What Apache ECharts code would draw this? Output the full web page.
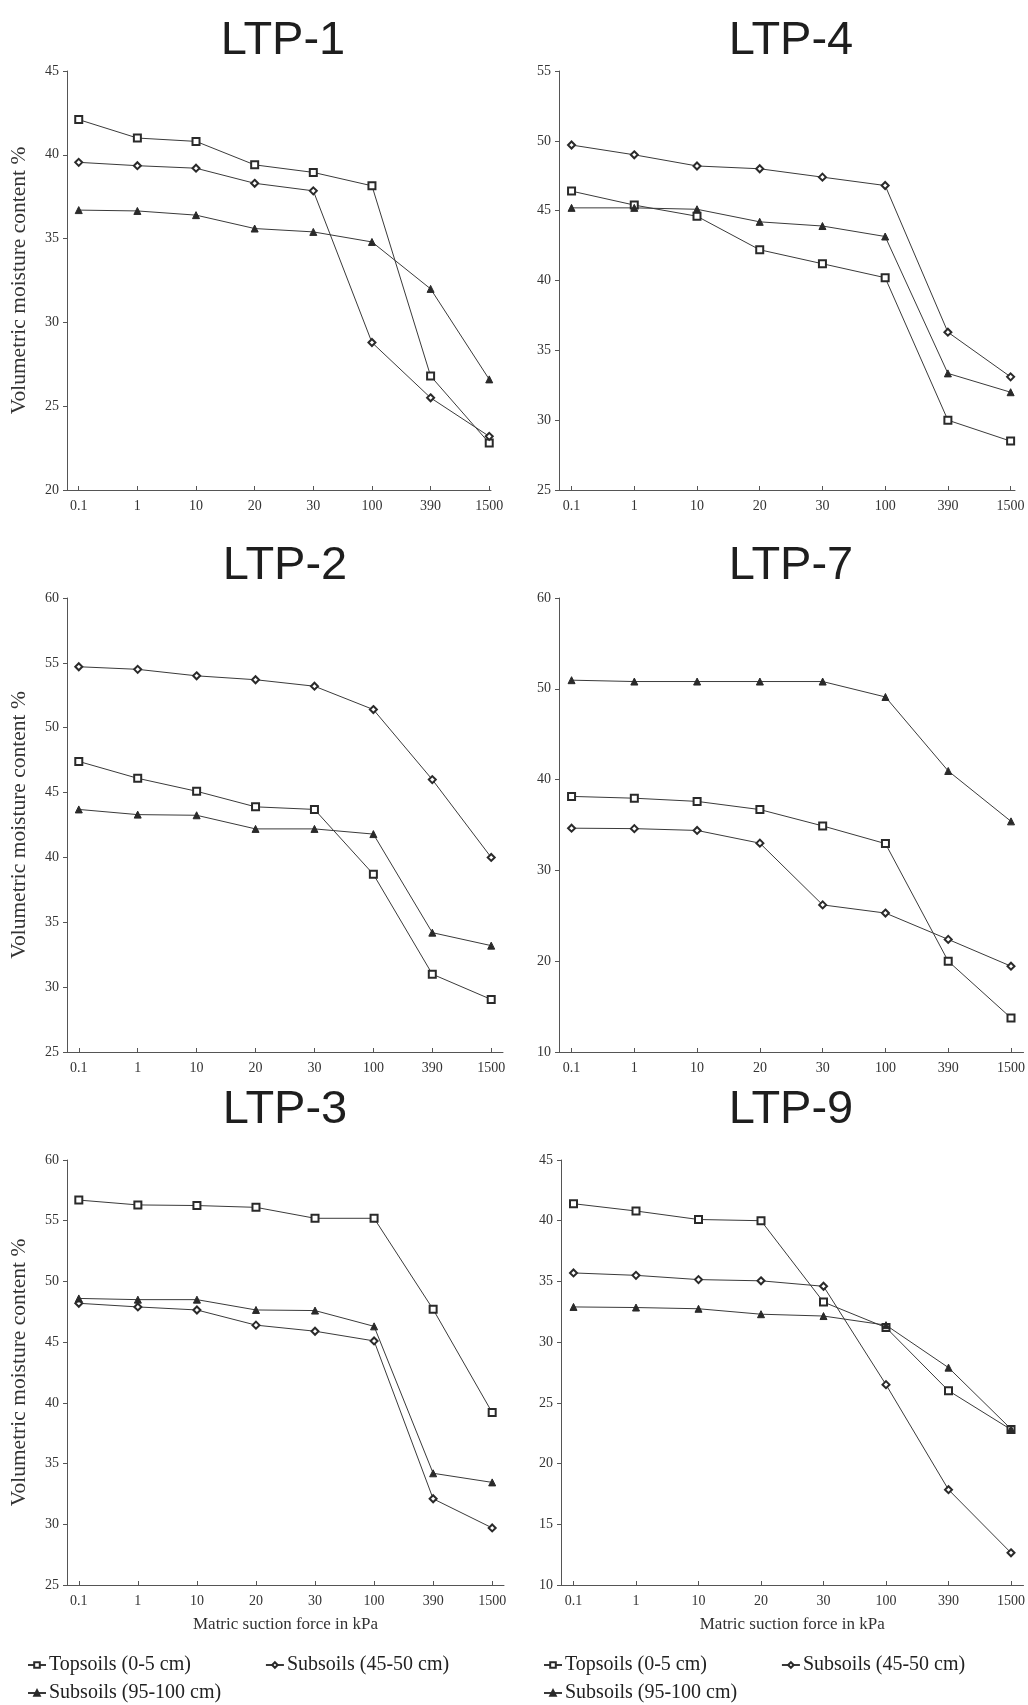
<!DOCTYPE html>
<html>
<head>
<meta charset="utf-8">
<script src="https://cdn.jsdelivr.net/npm/echarts@6/dist/echarts.min.js"></script>
<style>
html,body{margin:0;padding:0;background:#fff;}
#chart{width:1028px;height:1705px;}
</style>
</head>
<body>
<div id="chart"></div>
<script>
// ---- data ----
const categories = ['0.1', '1', '10', '20', '30', '100', '390', '1500'];
const seriesNames = ['Topsoils (0-5 cm)', 'Subsoils (45-50 cm)', 'Subsoils (95-100 cm)'];
const panelTitles = ['LTP-1', 'LTP-4', 'LTP-2', 'LTP-7', 'LTP-3', 'LTP-9'];

const ltp1Topsoils   = [42.1, 41.0, 40.8, 39.4, 38.95, 38.15, 26.8, 22.8];
const ltp1Subsoils45 = [39.55, 39.35, 39.2, 38.3, 37.85, 28.8, 25.5, 23.2];
const ltp1Subsoils95 = [36.7, 36.65, 36.4, 35.6, 35.4, 34.8, 32.0, 26.6];

const ltp4Topsoils   = [46.4, 45.4, 44.6, 42.2, 41.2, 40.2, 30.0, 28.5];
const ltp4Subsoils45 = [49.7, 49.0, 48.2, 48.0, 47.4, 46.8, 36.3, 33.1];
const ltp4Subsoils95 = [45.2, 45.2, 45.1, 44.2, 43.9, 43.15, 33.35, 32.0];

const ltp2Topsoils   = [47.4, 46.1, 45.1, 43.9, 43.7, 38.7, 31.0, 29.05];
const ltp2Subsoils45 = [54.7, 54.5, 54.0, 53.7, 53.2, 51.4, 46.0, 40.0];
const ltp2Subsoils95 = [43.7, 43.3, 43.25, 42.2, 42.2, 41.8, 34.2, 33.2];

const ltp7Topsoils   = [38.15, 37.95, 37.6, 36.7, 34.9, 32.95, 20.0, 13.75];
const ltp7Subsoils45 = [34.65, 34.6, 34.4, 33.0, 26.2, 25.3, 22.4, 19.45];
const ltp7Subsoils95 = [50.95, 50.8, 50.8, 50.8, 50.8, 49.1, 40.95, 35.4];

const ltp3Topsoils   = [56.7, 56.3, 56.25, 56.1, 55.2, 55.2, 47.7, 39.2];
const ltp3Subsoils45 = [48.2, 47.9, 47.65, 46.4, 45.9, 45.1, 32.1, 29.7];
const ltp3Subsoils95 = [48.6, 48.5, 48.5, 47.65, 47.6, 46.3, 34.2, 33.45];

const ltp9Topsoils   = [41.4, 40.8, 40.1, 40.0, 33.3, 31.2, 26.0, 22.8];
const ltp9Subsoils45 = [35.7, 35.5, 35.15, 35.05, 34.6, 26.5, 17.85, 12.65];
const ltp9Subsoils95 = [32.9, 32.85, 32.75, 32.3, 32.15, 31.4, 27.9, 22.85];

// y axis ranges [min, max, interval]
const yRangeLtp1 = [20, 45, 5];
const yRangeLtp4 = [25, 55, 5];
const yRangeLtp2 = [25, 60, 5];
const yRangeLtp7 = [10, 60, 10];
const yRangeLtp3 = [25, 60, 5];
const yRangeLtp9 = [10, 45, 5];

const panelData = [
  [ltp1Topsoils, ltp1Subsoils45, ltp1Subsoils95],
  [ltp4Topsoils, ltp4Subsoils45, ltp4Subsoils95],
  [ltp2Topsoils, ltp2Subsoils45, ltp2Subsoils95],
  [ltp7Topsoils, ltp7Subsoils45, ltp7Subsoils95],
  [ltp3Topsoils, ltp3Subsoils45, ltp3Subsoils95],
  [ltp9Topsoils, ltp9Subsoils45, ltp9Subsoils95]
];
const panelY = [yRangeLtp1, yRangeLtp4, yRangeLtp2, yRangeLtp7, yRangeLtp3, yRangeLtp9];

// ---- layout (positions/styles) ----
const layout = [
  {left: 67,  top: 71,   width: 424, height: 419, xMax: 7.03, tx: 283, ty: 41},
  {left: 559, top: 71,   width: 456, height: 419, xMax: 7.07, tx: 791, ty: 41},
  {left: 67,  top: 598,  width: 436, height: 454, xMax: 7.2,  tx: 285, ty: 566},
  {left: 559, top: 598,  width: 466, height: 454, xMax: 7.2,  tx: 791, ty: 566},
  {left: 67,  top: 1160, width: 437, height: 425, xMax: 7.2,  tx: 285, ty: 1110},
  {left: 561, top: 1160, width: 465, height: 425, xMax: 7.2,  tx: 791, ty: 1110}
];
const symbols = ['emptyRect', 'emptyDiamond', 'triangle'];
const symbolSizes = [7, 7, 7];
const serif = '"Liberation Serif", "DejaVu Serif", serif';
const axisColor = '#555';
const idx = categories.map((c, i) => i);

const grids = [], xAxes = [], yAxes = [], series = [], titles = [];
layout.forEach((L, p) => {
  grids.push({left: L.left, top: L.top, width: L.width, height: L.height, containLabel: false});
  titles.push({
    text: panelTitles[p], left: L.tx, top: L.ty - 24, textAlign: 'center', padding: 0,
    textStyle: {fontFamily: '"Liberation Sans", Arial, sans-serif', fontSize: 47, fontWeight: 'normal', color: '#1e1e1e', lineHeight: 48}
  });
  const bottomRow = p >= 4;
  xAxes.push({
    gridIndex: p, type: 'value', min: -0.2, max: L.xMax,
    name: bottomRow ? 'Matric suction force in kPa' : '',
    nameLocation: 'middle', nameGap: 31,
    nameTextStyle: {fontFamily: serif, fontSize: 17, color: '#333'},
    axisLine: {onZero: false, lineStyle: {color: axisColor, width: 1}},
    axisTick: {show: true, inside: true, length: 4, customValues: idx, lineStyle: {color: axisColor}},
    axisLabel: {customValues: idx, formatter: v => categories[Math.round(v)], fontFamily: serif, fontSize: 14, color: '#333', margin: 9},
    splitLine: {show: false}
  });
  const yr = panelY[p];
  const leftCol = p % 2 === 0;
  yAxes.push({
    gridIndex: p, type: 'value', min: yr[0], max: yr[1], interval: yr[2],
    name: leftCol ? 'Volumetric moisture content %' : '',
    nameLocation: 'middle', nameGap: 37, nameRotate: 90,
    nameTextStyle: {fontFamily: serif, fontSize: 21.5, color: '#333'},
    axisLine: {show: true, onZero: false, lineStyle: {color: axisColor, width: 1}},
    axisTick: {show: true, inside: false, length: 4, lineStyle: {color: axisColor}},
    axisLabel: {fontFamily: serif, fontSize: 14, color: '#333', margin: 8},
    splitLine: {show: false}
  });
  panelData[p].forEach((vals, s) => {
    series.push({
      type: 'line', name: seriesNames[s], xAxisIndex: p, yAxisIndex: p,
      data: vals.map((v, i) => [i, v]),
      symbol: symbols[s], symbolSize: symbolSizes[s], showAllSymbol: true,
      lineStyle: {color: '#3a3a3a', width: 1},
      itemStyle: {color: '#2a2a2a', borderColor: '#2a2a2a', borderWidth: 1},
      animation: false
    });
  });
});

const legendText = {fontFamily: serif, fontSize: 20, color: '#222', padding: [0, 0, 0, -2]};
const legendBase = {orient: 'horizontal', itemWidth: 18, itemHeight: 7, itemGap: 74, textStyle: legendText, selectedMode: false, padding: 0};
const legends = [
  Object.assign({}, legendBase, {left: 27,  top: 1655, data: [seriesNames[0], seriesNames[1]]}),
  Object.assign({}, legendBase, {left: 27,  top: 1683, data: [seriesNames[2]]}),
  Object.assign({}, legendBase, {left: 543, top: 1655, data: [seriesNames[0], seriesNames[1]]}),
  Object.assign({}, legendBase, {left: 543, top: 1683, data: [seriesNames[2]]})
];

const chart = echarts.init(document.getElementById('chart'), null, {renderer: 'canvas'});
chart.setOption({
  backgroundColor: '#fff',
  animation: false,
  title: titles,
  legend: legends,
  grid: grids,
  xAxis: xAxes,
  yAxis: yAxes,
  series: series
});
</script>
</body>
</html>
